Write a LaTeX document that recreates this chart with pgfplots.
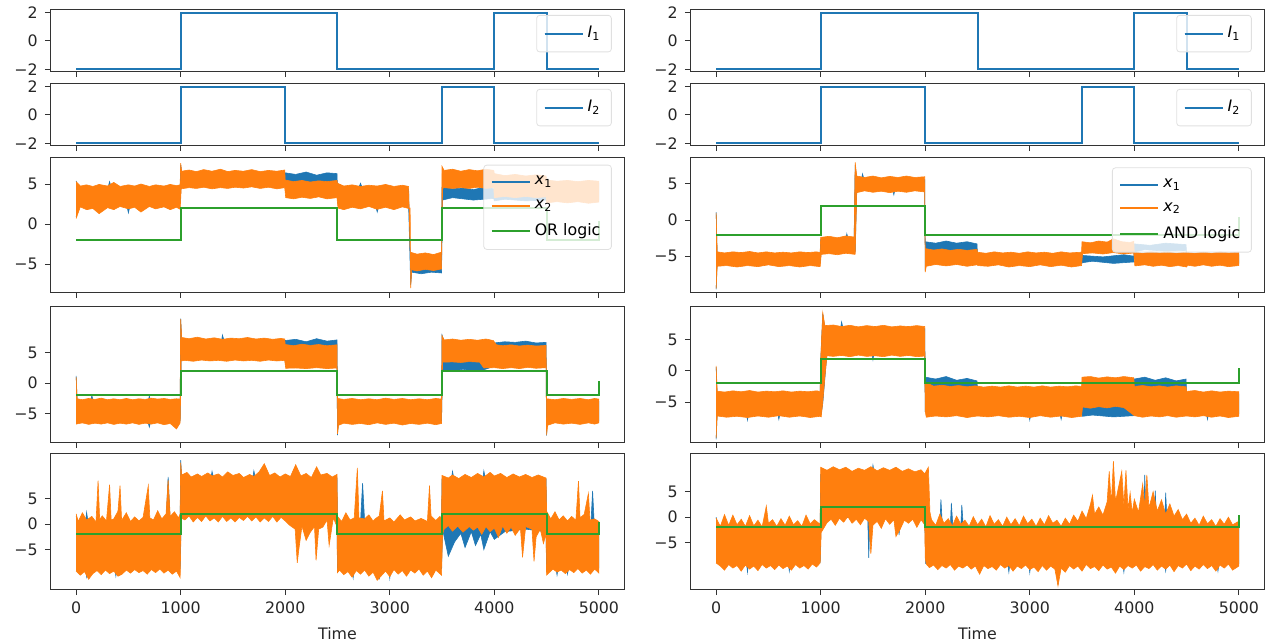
\documentclass[border=0pt]{standalone}
\usepackage{fontspec}
\setmainfont{DejaVu Sans}
\usepackage{pgfplots}
\pgfplotsset{compat=1.18}
\definecolor{c1}{HTML}{1F77B4}
\definecolor{c2}{HTML}{FF7F0E}
\definecolor{c3}{HTML}{2CA02C}
\newcommand\fs{\fontsize{7.9}{9.5}\selectfont}

\pgfplotsset{
  base/.style={scale only axis, width=287.5pt, xmin=-250, xmax=5250,
    xtick={0,1000,2000,3000,4000,5000}, xticklabels={},
    tick align=outside, xtick pos=bottom, ytick pos=left,
    major tick length=2.6pt,
    axis line style={black!80, line width=0.5pt},
    every tick/.style={black!80, line width=0.5pt},
    tick label style={font=\fs, text=black!85},
    legend style={font=\fs, draw=black!12, fill=white, fill opacity=0.8,
      text opacity=1, rounded corners=1.5pt, anchor=north east,
      row sep=2pt, inner sep=3.5pt},
    legend cell align=left,
    legend image code/.code={\draw[##1, line width=1pt] (0pt,0pt) -- (15pt,0pt);
      \path (0pt,0pt) -- (19pt,0pt);},
  },
  short/.style={base, height=31pt, ymin=-2.2, ymax=2.2,
    ytick={-2,0,2}, yticklabels={−2,0,2}},
  tall/.style={base, ytick={-5,0,5}, yticklabels={−5,0,5}},
  bottom/.style={xticklabels={0,1000,2000,3000,4000,5000},
    xlabel={Time}, xlabel style={font=\fs, text=black!85}},
  band/.style={fill=#1, draw=#1, line width=0.3pt, forget plot},
  sig/.style={#1, line width=1pt},
}

\begin{document}
\begin{tikzpicture}
\useasboundingbox (0,0) rectangle (633pt,321pt);

% ---------------- left column ----------------
\begin{axis}[short, at={(25pt,316pt)}, anchor=north west,
  legend style={at={(rel axis cs:0.977,0.92)}}]
\addplot[sig=c1] coordinates {(0,-2)(1000,-2)(1000,2)(2500,2)(2500,-2)(4000,-2)(4000,2)(4500,2)(4500,-2)(5000,-2)};
\addlegendentry{\textit{I}\textsubscript{1}}
\end{axis}

\begin{axis}[short, at={(25pt,279pt)}, anchor=north west,
  legend style={at={(rel axis cs:0.977,0.92)}}]
\addplot[sig=c1] coordinates {(0,-2)(1000,-2)(1000,2)(2000,2)(2000,-2)(3500,-2)(3500,2)(4000,2)(4000,-2)(5000,-2)};
\addlegendentry{\textit{I}\textsubscript{2}}
\end{axis}

\begin{axis}[tall, at={(25pt,242pt)}, anchor=north west, height=67.5pt,
  ymin=-8.6, ymax=8.25, legend style={at={(rel axis cs:0.977,0.95)}}]
\addplot[band=c1] coordinates {(0,5.4)(20,4.3)(300,4.3)(320,5.3)(340,4.3)(995,4.3)(1000,7.4)(1010,6.3)(1995,6.3)(2000,6.4)(2100,6.2)(2200,6.5)(2300,6.1)(2400,6.4)(2495,6.3)(2500,4.4)(2700,4.4)(2720,5.1)(2740,4.4)(3180,4.4)(3195,-4.0)(3495,-4.0)(3500,4.6)(3600,4.4)(3700,4.5)(3800,4.3)(3900,4.6)(3995,4.4)(4000,4.2)(4200,4.4)(4400,4.1)(4495,4.3)(4500,5.0)(4700,5.1)(4900,5.0)(5000,5.1)
 (5000,3.0)(4800,3.0)(4600,3.0)(4500,2.9)(4495,3.0)(4300,2.9)(4100,3.1)(4000,2.9)(3995,3.2)(3800,3.0)(3600,3.3)(3505,3.0)(3495,-6.1)(3400,-6.0)(3300,-6.2)(3210,-6.0)(3200,-7.6)(3180,2.5)(2900,2.5)(2880,1.5)(2860,2.5)(2505,2.5)(2495,5.2)(2300,5.1)(2100,5.3)(2005,5.1)(1995,4.9)(1005,4.9)(995,2.6)(520,2.6)(500,1.4)(480,2.6)(20,2.6)(0,0.9)};
\addplot[band=c2] coordinates {(0,5.3)(40,4.75)(100,4.9)(160,4.7)(220,4.95)(300,4.75)(360,5.2)(420,4.7)(500,4.9)(560,4.75)(620,5.0)(700,4.7)(760,4.9)(840,4.75)(900,4.95)(960,4.8)(995,4.9)(1000,7.6)(1010,6.6)(1080,6.75)(1150,6.55)(1220,6.8)(1300,6.6)(1380,6.85)(1450,6.55)(1520,6.7)(1600,6.6)(1680,6.8)(1760,6.55)(1840,6.7)(1920,6.6)(1995,6.75)(2000,5.5)(2080,5.3)(2160,5.45)(2240,5.25)(2320,5.4)(2400,5.3)(2495,5.45)(2500,5.1)(2560,4.75)(2640,4.9)(2720,4.7)(2800,4.85)(2880,4.75)(2960,4.95)(3040,4.7)(3120,4.85)(3180,4.7)(3195,-3.5)(3260,-3.75)(3340,-3.6)(3420,-3.8)(3495,-3.5)(3500,7.2)(3520,6.7)(3600,6.85)(3680,6.6)(3760,6.8)(3840,6.65)(3920,6.85)(3995,6.7)(4000,6.3)(4100,6.05)(4200,6.2)(4300,6.0)(4400,6.15)(4495,6.0)(4500,5.5)(4600,5.35)(4700,5.45)(4800,5.3)(4900,5.45)(5000,5.35)
 (5000,2.75)(4900,2.6)(4800,2.8)(4700,2.65)(4600,2.8)(4500,2.65)(4495,3.4)(4400,3.3)(4300,3.45)(4200,3.3)(4100,3.45)(4000,3.3)(3995,4.55)(3920,4.45)(3840,4.6)(3760,4.45)(3680,4.55)(3600,4.45)(3520,4.55)(3505,4.45)(3495,-5.6)(3420,-5.8)(3340,-5.65)(3260,-5.85)(3210,-5.7)(3200,-8.0)(3195,2.0)(3180,1.95)(3120,2.15)(3040,1.8)(2960,2.1)(2880,1.85)(2800,2.2)(2720,1.9)(2640,2.1)(2560,1.8)(2505,2.0)(2495,3.3)(2400,3.15)(2320,3.4)(2240,3.2)(2160,3.35)(2080,3.15)(2005,3.3)(1995,4.55)(1920,4.4)(1840,4.6)(1760,4.45)(1680,4.65)(1600,4.5)(1520,4.6)(1450,4.45)(1380,4.55)(1300,4.4)(1220,4.6)(1150,4.45)(1080,4.55)(1005,4.4)(995,1.85)(960,2.1)(900,1.8)(840,2.15)(760,1.9)(700,2.2)(620,1.5)(560,2.1)(500,1.9)(420,2.2)(360,1.8)(300,2.05)(220,1.3)(160,1.95)(100,1.8)(40,2.15)(0,0.7)};
\addlegendimage{sig=c1}\addlegendentry{\textit{x}\textsubscript{1}}
\addlegendimage{sig=c2}\addlegendentry{\textit{x}\textsubscript{2}}
\addplot[sig=c3] coordinates {(0,-2)(1000,-2)(1000,2)(2500,2)(2500,-2)(3500,-2)(3500,2)(4500,2)(4500,-2)(5000,-2)(5000,0.4)};
\addlegendentry{OR logic}
\end{axis}

\begin{axis}[tall, at={(25pt,167.5pt)}, anchor=north west, height=68pt,
  ymin=-9.8, ymax=12.5]
\addplot[band=c1] coordinates {(0,1.2)(10,-3.0)(140,-3.0)(150,-2.0)(165,-3.0)(690,-3.0)(700,-2.1)(715,-3.0)(995,-3.0)(1000,10.6)(1010,6.9)(1390,6.9)(1400,7.9)(1415,6.9)(1995,6.9)(2000,7.0)(2100,7.2)(2200,6.8)(2300,7.3)(2400,6.9)(2495,7.1)(2500,-3.0)(3495,-3.0)(3500,7.9)(3520,6.8)(3995,6.8)(4000,6.6)(4100,6.8)(4200,6.7)(4300,6.9)(4400,6.6)(4495,6.7)(4500,-3.0)(5000,-3.0)
 (5000,-6.2)(4600,-6.2)(4505,-6.5)(4500,-8.6)(4495,3.0)(4300,2.8)(4100,2.9)(4000,2.8)(3900,2.2)(3800,2.0)(3700,2.3)(3600,2.0)(3505,2.2)(3495,-6.2)(2510,-6.2)(2500,-8.5)(2495,3.0)(2200,2.8)(2005,3.0)(1995,3.95)(1005,3.95)(995,-6.2)(715,-6.2)(700,-7.2)(685,-6.2)(0,-6.2)};
\addplot[band=c2] coordinates {(0,1.0)(10,-2.55)(60,-2.7)(120,-2.5)(180,-2.65)(240,-2.45)(300,-2.7)(360,-2.55)(420,-2.7)(480,-2.5)(540,-2.7)(600,-2.55)(660,-2.65)(720,-2.45)(780,-2.6)(840,-2.5)(900,-2.65)(960,-2.55)(995,-2.6)(1000,10.5)(1010,7.5)(1080,7.3)(1160,7.55)(1240,7.25)(1320,7.45)(1400,7.2)(1480,7.4)(1560,7.3)(1640,7.5)(1720,7.25)(1800,7.4)(1880,7.2)(1960,7.35)(1995,7.25)(2000,6.35)(2080,6.15)(2160,6.4)(2240,6.2)(2320,6.35)(2400,6.15)(2495,6.3)(2500,-2.5)(2560,-2.65)(2640,-2.5)(2720,-2.7)(2800,-2.55)(2880,-2.7)(2960,-2.45)(3040,-2.65)(3120,-2.5)(3200,-2.7)(3280,-2.55)(3360,-2.7)(3440,-2.5)(3495,-2.6)(3500,7.8)(3520,7.1)(3600,7.25)(3680,7.05)(3760,7.2)(3840,7.05)(3920,7.25)(3990,7.0)(4020,6.3)(4080,6.15)(4160,6.3)(4240,6.1)(4320,6.25)(4400,6.1)(4495,6.2)(4500,-2.55)(4580,-2.7)(4660,-2.5)(4740,-2.65)(4820,-2.5)(4900,-2.7)(4960,-2.5)(5000,-2.6)
 (5000,-6.5)(4960,-6.7)(4900,-6.5)(4820,-6.75)(4740,-6.55)(4660,-6.7)(4580,-6.5)(4510,-6.9)(4500,-8.5)(4495,2.55)(4400,2.45)(4320,2.6)(4240,2.4)(4160,2.55)(4080,2.4)(4000,2.55)(3900,2.5)(3860,3.45)(3760,3.55)(3680,3.4)(3600,3.5)(3505,3.45)(3495,-6.6)(3440,-6.8)(3360,-6.55)(3280,-6.75)(3200,-6.6)(3120,-6.85)(3040,-6.55)(2960,-6.75)(2880,-6.5)(2800,-6.8)(2720,-6.6)(2640,-6.75)(2560,-6.55)(2510,-6.9)(2500,-8.3)(2495,2.5)(2400,2.4)(2300,2.55)(2200,2.4)(2100,2.5)(2005,2.45)(1995,3.75)(1920,3.65)(1840,3.8)(1760,3.6)(1680,3.75)(1600,3.65)(1520,3.8)(1440,3.6)(1360,3.75)(1280,3.65)(1200,3.8)(1120,3.6)(1040,3.75)(1005,3.65)(995,-6.5)(960,-7.5)(900,-6.6)(840,-6.8)(780,-6.5)(720,-6.7)(660,-6.55)(600,-6.75)(540,-6.5)(480,-6.7)(420,-6.55)(360,-6.75)(300,-6.5)(240,-6.7)(180,-6.55)(120,-6.75)(60,-6.5)(0,-6.7)};
\addplot[sig=c3] coordinates {(0,-2)(1000,-2)(1000,2)(2500,2)(2500,-2)(3500,-2)(3500,2)(4500,2)(4500,-2)(5000,-2)(5000,0.4)};
\end{axis}

\begin{axis}[tall, bottom, at={(25pt,94pt)}, anchor=north west, height=68pt,
  ymin=-12.9, ymax=13.7]
\addplot[band=c1] coordinates {(0,1.5)(20,0.3)(90,0.3)(100,2.3)(115,0.3)(860,0.3)(880,9.2)(900,0.3)(995,0.3)(1000,12.5)(1010,9.0)(1290,9.0)(1300,10.3)(1315,9.0)(1690,9.0)(1700,10.4)(1715,9.0)(2290,9.0)(2300,10.2)(2315,9.0)(2495,9.0)(2500,0.3)(2720,0.3)(2740,8.0)(2760,0.3)(3495,0.3)(3500,8.8)(3590,8.8)(3600,10.3)(3615,8.8)(3890,8.8)(3900,10.4)(3915,8.8)(4495,8.8)(4500,0.4)(4925,0.4)(4940,6.5)(4955,0.4)(5000,0.4)
 (5000,-8.6)(4710,-8.6)(4700,-9.8)(4690,-8.6)(4610,-8.6)(4600,-10.0)(4590,-8.6)(4500,-8.6)(4495,-1.5)(4300,-1.0)(4100,-1.5)(4000,-3.0)(3960,-1.5)(3900,-5.0)(3870,-2.0)(3820,-4.2)(3780,-1.5)(3720,-4.6)(3680,-1.8)(3620,-3.5)(3560,-6.3)(3520,-2.5)(3505,-1.0)(3495,-8.7)(3010,-8.7)(3000,-10.6)(2990,-8.7)(2910,-8.7)(2900,-10.8)(2890,-8.7)(2660,-8.7)(2650,-10.5)(2640,-8.7)(2500,-8.7)(2495,1.3)(2005,1.3)(1995,1.7)(1005,1.7)(995,-8.7)(390,-8.7)(380,-10.2)(370,-8.7)(110,-8.7)(100,-10.3)(90,-8.7)(0,-8.7)};
\addplot[band=c2] coordinates {(0,2.0)(20,0.5)(60,2.2)(100,0.8)(150,1.5)(190,0.4)(210,8.5)(225,0.9)(250,1.6)(290,0.6)(320,7.7)(335,0.8)(360,1.0)(400,2.5)(420,7.5)(435,0.7)(480,2.2)(520,0.5)(560,1.4)(600,0.6)(640,1.3)(690,7.5)(705,1.2)(740,0.8)(780,2.6)(820,1.0)(860,2.0)(880,8.6)(900,1.5)(940,2.4)(980,1.2)(995,2.0)(1000,12.0)(1010,9.6)(1060,10.1)(1100,9.2)(1160,9.8)(1200,9.3)(1260,10.0)(1300,9.4)(1360,9.8)(1400,9.2)(1450,10.2)(1500,9.5)(1560,9.9)(1600,9.1)(1660,9.7)(1700,9.3)(1750,10.2)(1800,11.8)(1850,9.5)(1900,10.0)(1950,9.2)(2000,9.8)(2050,9.3)(2100,11.6)(2150,9.4)(2200,9.9)(2250,9.1)(2300,11.2)(2340,9.6)(2400,9.9)(2450,9.2)(2495,9.7)(2500,1.5)(2540,0.5)(2580,2.2)(2620,0.8)(2660,1.2)(2690,11.0)(2705,1.2)(2760,1.0)(2800,1.8)(2840,0.6)(2860,1.0)(2900,1.6)(2930,6.5)(2945,0.6)(3000,1.2)(3040,0.4)(3100,1.8)(3140,0.8)(3200,1.4)(3240,0.6)(3300,1.1)(3360,0.5)(3380,7.5)(3395,1.6)(3440,0.7)(3480,1.5)(3495,1.0)(3500,9.5)(3560,9.0)(3600,9.6)(3660,8.9)(3720,9.7)(3780,9.1)(3840,9.9)(3900,9.2)(3960,10.1)(4000,9.4)(4060,9.9)(4120,9.1)(4180,9.8)(4240,9.2)(4300,9.7)(4360,9.1)(4420,9.6)(4495,9.0)(4500,2.5)(4540,1.0)(4580,2.4)(4620,0.8)(4660,1.6)(4700,0.6)(4740,1.5)(4780,0.7)(4805,8.4)(4820,1.2)(4860,1.9)(4900,6.0)(4915,0.8)(4960,1.0)(5000,0.5)
 (5000,-9.6)(4960,-8.8)(4920,-9.8)(4880,-9.0)(4840,-9.6)(4800,-8.7)(4760,-9.5)(4720,-8.9)(4680,-9.7)(4640,-9.0)(4600,-9.4)(4560,-8.8)(4520,-9.6)(4500,-10.0)(4495,-2.0)(4470,-3.8)(4440,-1.0)(4400,-2.5)(4380,-7.3)(4360,-1.0)(4300,-0.5)(4270,-6.5)(4250,-0.8)(4200,-2.2)(4160,-0.6)(4120,-1.8)(4080,-0.4)(4040,-2.6)(4000,-0.8)(3960,-1.5)(3920,-0.5)(3880,-2.0)(3840,-0.6)(3800,-1.2)(3760,-0.5)(3700,-1.6)(3650,-0.4)(3600,-1.4)(3560,-0.3)(3520,-1.0)(3505,-2.0)(3495,-10.0)(3440,-9.0)(3400,-10.5)(3360,-9.2)(3320,-10.0)(3280,-8.8)(3240,-9.6)(3200,-9.0)(3160,-10.2)(3120,-9.1)(3080,-9.8)(3040,-8.9)(3000,-10.3)(2960,-9.2)(2920,-10.1)(2880,-11.0)(2840,-9.4)(2800,-10.2)(2760,-9.0)(2720,-9.8)(2680,-9.1)(2640,-10.4)(2600,-9.3)(2560,-9.9)(2520,-9.0)(2500,-9.5)(2495,-0.5)(2460,1.2)(2420,-4.2)(2400,0.8)(2360,-0.6)(2320,-1.0)(2295,-7.1)(2280,-0.5)(2240,-1.6)(2200,-3.2)(2160,-0.4)(2130,-5.0)(2115,-7.6)(2095,-1.0)(2040,-0.2)(2000,0.6)(1960,1.3)(1920,0.4)(1880,1.5)(1840,0.5)(1800,1.2)(1760,0.4)(1720,1.4)(1680,0.6)(1640,1.5)(1600,0.7)(1560,1.3)(1520,0.4)(1480,1.2)(1440,0.5)(1400,1.5)(1360,0.4)(1320,1.2)(1280,0.6)(1240,1.6)(1200,0.5)(1160,1.3)(1120,0.4)(1080,1.6)(1040,0.8)(1005,1.2)(995,-10.5)(960,-9.2)(920,-9.8)(880,-9.0)(840,-9.6)(800,-8.8)(760,-9.5)(720,-8.9)(680,-9.8)(640,-9.1)(600,-9.5)(560,-8.9)(520,-9.6)(480,-9.0)(440,-9.8)(400,-10.2)(360,-9.2)(320,-9.7)(280,-9.0)(240,-9.9)(200,-9.1)(160,-9.7)(120,-10.8)(80,-9.3)(40,-10.0)(0,-9.2)};
\addplot[sig=c3] coordinates {(0,-2)(1000,-2)(1000,2)(2500,2)(2500,-2)(3500,-2)(3500,2)(4500,2)(4500,-2)(5000,-2)(5000,0.4)};
\end{axis}

% ---------------- right column ----------------
\begin{axis}[short, at={(345pt,316pt)}, anchor=north west,
  legend style={at={(rel axis cs:0.977,0.92)}}]
\addplot[sig=c1] coordinates {(0,-2)(1000,-2)(1000,2)(2500,2)(2500,-2)(4000,-2)(4000,2)(4500,2)(4500,-2)(5000,-2)};
\addlegendentry{\textit{I}\textsubscript{1}}
\end{axis}

\begin{axis}[short, at={(345pt,279pt)}, anchor=north west,
  legend style={at={(rel axis cs:0.977,0.92)}}]
\addplot[sig=c1] coordinates {(0,-2)(1000,-2)(1000,2)(2000,2)(2000,-2)(3500,-2)(3500,2)(4000,2)(4000,-2)(5000,-2)};
\addlegendentry{\textit{I}\textsubscript{2}}
\end{axis}

\begin{axis}[tall, at={(345pt,242pt)}, anchor=north west, height=67.5pt,
  ymin=-10.1, ymax=8.6, legend style={at={(rel axis cs:0.977,0.93)}}]
\addplot[band=c1] coordinates {(0,1.1)(10,-4.8)(995,-4.8)(1000,-2.7)(1240,-2.7)(1250,-1.9)(1265,-2.7)(1320,-2.7)(1330,7.6)(1345,5.6)(1390,5.6)(1400,6.4)(1415,5.6)(1995,5.6)(2000,-3.0)(2100,-3.2)(2200,-2.9)(2300,-3.2)(2400,-3.0)(2495,-3.3)(2500,-4.8)(3495,-4.8)(3500,-4.9)(3700,-5.1)(3900,-4.8)(3995,-5.0)(4000,-3.3)(4150,-3.5)(4300,-3.2)(4495,-3.4)(4500,-4.8)(5000,-4.8)
 (5000,-6.0)(4500,-6.0)(4495,-4.2)(4300,-4.3)(4100,-4.1)(4000,-4.4)(3995,-5.8)(3800,-6.0)(3600,-5.7)(3505,-5.9)(3495,-6.0)(2505,-6.0)(2495,-4.3)(2300,-4.1)(2100,-4.4)(2005,-4.2)(2000,-7.0)(1995,4.2)(1710,4.2)(1700,3.5)(1690,4.2)(1345,4.2)(1330,-4.4)(1005,-4.4)(995,-6.0)(10,-6.0)(0,-9.6)};
\addplot[band=c2] coordinates {(0,1.0)(10,-4.4)(80,-4.55)(160,-4.4)(240,-4.5)(320,-4.35)(400,-4.55)(480,-4.4)(560,-4.55)(640,-4.45)(720,-4.55)(800,-4.4)(880,-4.5)(960,-4.4)(995,-4.5)(1000,-2.4)(1080,-2.25)(1160,-2.45)(1240,-2.2)(1320,-2.35)(1330,8.0)(1345,6.1)(1420,5.9)(1500,6.1)(1580,5.85)(1660,6.05)(1740,5.9)(1820,6.1)(1900,5.9)(1995,6.0)(2000,-3.95)(2080,-4.15)(2160,-4.0)(2240,-4.2)(2320,-4.05)(2400,-4.2)(2495,-4.05)(2500,-4.45)(2580,-4.6)(2660,-4.4)(2740,-4.55)(2820,-4.45)(2900,-4.6)(2980,-4.4)(3060,-4.55)(3140,-4.45)(3220,-4.6)(3300,-4.4)(3380,-4.55)(3495,-4.45)(3500,-3.0)(3580,-3.15)(3660,-2.9)(3740,-3.05)(3800,-2.6)(3880,-3.0)(3960,-3.1)(3995,-2.95)(4000,-4.45)(4080,-4.6)(4160,-4.4)(4240,-4.55)(4320,-4.45)(4400,-4.6)(4495,-4.45)(4500,-4.5)(4580,-4.6)(4660,-4.45)(4740,-4.6)(4820,-4.4)(4900,-4.55)(5000,-4.45)
 (5000,-6.3)(4900,-6.45)(4820,-6.25)(4740,-6.4)(4660,-6.2)(4580,-6.4)(4510,-6.25)(4500,-6.5)(4420,-6.3)(4340,-6.45)(4260,-6.25)(4180,-6.4)(4100,-6.2)(4005,-6.35)(3995,-4.55)(3900,-4.7)(3800,-4.5)(3700,-4.7)(3600,-4.55)(3505,-4.65)(3495,-6.3)(3400,-6.5)(3300,-6.25)(3200,-6.45)(3100,-6.2)(3000,-6.45)(2900,-6.3)(2800,-6.5)(2700,-6.2)(2600,-6.4)(2505,-6.3)(2495,-6.2)(2400,-6.4)(2300,-6.15)(2200,-6.35)(2100,-6.15)(2010,-6.4)(2000,-7.2)(1995,3.9)(1900,4.05)(1820,3.85)(1740,4.0)(1660,3.8)(1580,4.0)(1500,3.85)(1420,4.05)(1345,3.8)(1330,-4.75)(1240,-4.6)(1160,-4.8)(1080,-4.65)(1005,-4.75)(995,-6.45)(900,-6.3)(800,-6.5)(700,-6.3)(600,-6.45)(500,-6.2)(400,-6.45)(300,-6.3)(200,-6.5)(100,-6.3)(10,-6.4)(0,-9.5)};
\addlegendimage{sig=c1}\addlegendentry{\textit{x}\textsubscript{1}}
\addlegendimage{sig=c2}\addlegendentry{\textit{x}\textsubscript{2}}
\addplot[sig=c3] coordinates {(0,-2)(1000,-2)(1000,2)(2000,2)(2000,-2)(5000,-2)(5000,0.4)};
\addlegendentry{AND logic}
\end{axis}

\begin{axis}[tall, at={(345pt,167.5pt)}, anchor=north west, height=68pt,
  ymin=-11.6, ymax=10.3]
\addplot[band=c1] coordinates {(0,0.6)(10,-3.7)(995,-3.7)(1000,1.5)(1020,9.2)(1040,6.8)(1190,6.8)(1200,7.9)(1215,6.8)(1995,6.8)(2000,-1.0)(2100,-1.3)(2200,-0.9)(2300,-1.5)(2400,-1.2)(2495,-1.6)(2500,-3.0)(3495,-3.0)(3500,-2.5)(3995,-2.8)(4000,-1.3)(4100,-1.0)(4200,-1.5)(4300,-1.1)(4400,-1.6)(4495,-1.3)(4500,-3.7)(5000,-3.7)
 (5000,-6.9)(4710,-6.9)(4700,-7.8)(4690,-6.9)(4500,-6.9)(4495,-5.6)(4000,-5.5)(3995,-7.2)(3800,-7.4)(3600,-7.1)(3505,-7.3)(3495,-6.9)(3310,-6.9)(3300,-7.8)(3290,-6.9)(3010,-6.9)(3000,-7.9)(2990,-6.9)(2500,-6.9)(2495,-5.5)(2005,-5.6)(2000,-6.6)(1995,2.8)(1510,2.8)(1500,1.8)(1490,2.8)(1060,2.8)(1040,-1.2)(1020,-5.2)(1005,-6.9)(995,-6.9)(610,-6.9)(600,-7.8)(590,-6.9)(310,-6.9)(300,-7.9)(290,-6.9)(10,-6.9)(0,-11.0)};
\addplot[band=c2] coordinates {(0,0.8)(10,-3.25)(80,-3.4)(160,-3.2)(240,-3.35)(320,-3.15)(400,-3.4)(480,-3.25)(560,-3.35)(640,-3.2)(720,-3.4)(800,-3.25)(880,-3.35)(960,-3.2)(995,-3.3)(1000,1.8)(1020,9.4)(1040,7.3)(1120,7.4)(1200,7.15)(1280,7.35)(1360,7.1)(1440,7.3)(1520,7.15)(1600,7.35)(1680,7.1)(1760,7.25)(1840,7.15)(1920,7.3)(1995,7.15)(2000,-1.8)(2080,-2.45)(2160,-2.3)(2240,-2.5)(2320,-2.35)(2400,-2.55)(2480,-2.4)(2560,-2.6)(2640,-2.45)(2720,-2.6)(2800,-2.4)(2880,-2.6)(2960,-2.45)(3040,-2.6)(3120,-2.4)(3200,-2.6)(3280,-2.45)(3360,-2.55)(3440,-2.4)(3495,-2.5)(3500,-1.0)(3580,-0.9)(3660,-1.15)(3740,-0.95)(3820,-1.1)(3900,-0.9)(3995,-1.1)(4000,-2.5)(4080,-2.35)(4160,-2.55)(4240,-2.4)(4320,-2.6)(4400,-2.4)(4495,-2.55)(4500,-3.3)(4580,-3.15)(4660,-3.4)(4740,-3.2)(4820,-3.4)(4900,-3.25)(5000,-3.35)
 (5000,-7.3)(4900,-7.5)(4820,-7.25)(4740,-7.45)(4660,-7.2)(4580,-7.4)(4500,-7.25)(4400,-7.45)(4320,-7.2)(4240,-7.4)(4160,-7.25)(4080,-7.45)(4000,-7.2)(3900,-5.9)(3820,-5.7)(3740,-5.95)(3660,-5.75)(3580,-6.0)(3505,-5.8)(3495,-7.3)(3400,-7.5)(3300,-7.25)(3200,-7.45)(3100,-7.2)(3000,-7.5)(2900,-7.3)(2800,-7.45)(2700,-7.2)(2600,-7.4)(2500,-7.25)(2400,-7.5)(2300,-7.2)(2200,-7.4)(2100,-7.25)(2010,-7.45)(2000,-6.5)(1995,2.4)(1920,2.3)(1840,2.5)(1760,2.35)(1680,2.55)(1600,2.3)(1520,2.45)(1440,2.35)(1360,2.55)(1280,2.3)(1200,2.5)(1120,2.35)(1060,2.45)(1040,-1.0)(1020,-5.0)(1005,-7.4)(995,-7.3)(900,-7.5)(800,-7.25)(700,-7.45)(600,-7.2)(500,-7.45)(400,-7.25)(300,-7.5)(200,-7.3)(100,-7.45)(10,-7.25)(0,-10.8)};
\addplot[sig=c3] coordinates {(0,-2)(1000,-2)(1000,2)(2000,2)(2000,-2)(5000,-2)(5000,0.4)};
\end{axis}

\begin{axis}[tall, bottom, at={(345pt,94pt)}, anchor=north west, height=68pt,
  ymin=-14.3, ymax=12.4]
\addplot[band=c1] coordinates {(0,0.0)(10,-2.0)(995,-2.0)(1000,8.4)(1490,8.4)(1500,10.2)(1515,8.4)(1995,8.0)(2010,-2.0)(2140,-2.0)(2150,3.5)(2165,-2.0)(2240,-2.0)(2250,2.8)(2265,-2.0)(2340,-2.0)(2350,2.4)(2365,-2.0)(4090,-2.0)(4100,8.3)(4115,-2.0)(4190,-2.0)(4200,5.2)(4215,-2.0)(4290,-2.0)(4300,4.8)(4315,-2.0)(5000,-2.0)
 (5000,-9.1)(4810,-9.1)(4800,-10.6)(4790,-9.1)(4310,-9.1)(4300,-10.6)(4290,-9.1)(3910,-9.1)(3900,-10.8)(3890,-9.1)(3280,-9.1)(3270,-13.2)(3260,-9.1)(3010,-9.1)(3000,-10.9)(2990,-9.1)(2810,-9.1)(2800,-10.8)(2790,-9.1)(2005,-9.1)(1995,-0.1)(1760,-0.1)(1750,-3.5)(1740,-0.1)(1470,-0.1)(1460,-8.0)(1450,-0.1)(1005,-0.1)(995,-8.9)(710,-8.9)(700,-10.6)(690,-8.9)(310,-8.9)(300,-10.8)(290,-8.9)(0,-8.9)};
\addplot[band=c2] coordinates {(0,-0.2)(40,-1.8)(80,0.5)(120,-1.6)(160,0.4)(200,-1.5)(240,-0.4)(280,-1.8)(320,0.3)(360,-1.7)(400,-0.6)(440,-1.9)(480,2.2)(500,-1.2)(540,-0.5)(580,-1.8)(620,-0.3)(660,-1.6)(700,0.2)(740,-1.5)(780,-0.7)(820,-1.8)(860,0.4)(900,-1.3)(940,-0.5)(995,-1.4)(1000,9.8)(1060,9.2)(1120,9.9)(1180,9.3)(1240,9.8)(1300,9.0)(1360,9.6)(1420,9.2)(1480,9.9)(1540,9.1)(1600,9.7)(1660,9.2)(1720,9.8)(1780,9.0)(1840,9.5)(1900,8.9)(1960,9.3)(1995,8.5)(2030,9.8)(2045,1.0)(2060,-0.5)(2100,-1.6)(2140,0.6)(2180,-1.2)(2220,-0.3)(2260,-1.7)(2300,0.2)(2340,-1.4)(2380,-0.6)(2420,-1.8)(2460,0.1)(2500,-1.5)(2540,-0.4)(2580,-1.9)(2620,0.3)(2660,-1.4)(2700,-0.5)(2740,-1.8)(2780,0.0)(2820,-1.5)(2860,-0.3)(2900,-1.7)(2940,0.2)(2980,-1.3)(3020,-0.4)(3060,-1.8)(3100,-0.2)(3140,-1.5)(3180,0.3)(3220,-1.2)(3260,-0.6)(3300,-1.8)(3340,-0.2)(3380,-1.4)(3420,0.4)(3460,-0.8)(3500,1.2)(3540,-0.3)(3580,2.5)(3600,4.3)(3620,0.6)(3660,2.0)(3700,0.4)(3740,3.0)(3760,9.0)(3780,2.5)(3800,11.0)(3820,3.0)(3850,6.0)(3880,9.0)(3900,2.2)(3920,9.2)(3940,1.5)(3960,4.8)(3980,0.8)(4000,3.5)(4040,1.0)(4080,6.5)(4100,2.0)(4120,8.3)(4140,1.8)(4180,5.0)(4220,1.2)(4260,3.4)(4300,0.6)(4340,2.6)(4380,0.2)(4420,1.5)(4460,-0.5)(4500,0.6)(4540,-1.2)(4580,-0.2)(4620,-1.6)(4660,0.2)(4700,-1.3)(4740,-0.5)(4780,-1.8)(4820,-0.3)(4860,-1.4)(4900,0.0)(4940,-1.5)(5000,-0.8)
 (5000,-9.6)(4940,-10.4)(4900,-9.2)(4860,-10.0)(4820,-9.4)(4780,-10.6)(4740,-9.5)(4700,-10.1)(4660,-9.3)(4620,-10.2)(4580,-9.6)(4540,-10.5)(4500,-9.2)(4460,-10.0)(4420,-9.5)(4380,-10.7)(4340,-9.4)(4300,-10.2)(4260,-9.6)(4220,-10.4)(4180,-9.3)(4140,-10.1)(4100,-9.7)(4060,-10.6)(4020,-9.4)(3980,-10.0)(3940,-9.5)(3900,-10.3)(3860,-9.6)(3820,-11.0)(3780,-9.8)(3740,-10.2)(3700,-9.4)(3660,-10.5)(3620,-9.7)(3580,-10.1)(3540,-9.3)(3500,-10.6)(3460,-9.6)(3420,-10.2)(3380,-9.5)(3340,-10.8)(3300,-10.0)(3270,-13.5)(3240,-10.2)(3200,-9.6)(3160,-10.4)(3120,-9.5)(3080,-10.7)(3040,-9.8)(3000,-10.3)(2960,-9.4)(2920,-10.1)(2880,-9.6)(2840,-10.6)(2800,-9.5)(2760,-10.0)(2720,-9.3)(2680,-10.4)(2640,-9.7)(2600,-10.1)(2560,-9.5)(2520,-11.2)(2480,-9.6)(2440,-10.2)(2400,-9.4)(2360,-10.0)(2320,-9.6)(2280,-10.4)(2240,-9.3)(2200,-10.0)(2160,-9.5)(2120,-10.3)(2080,-9.4)(2040,-9.9)(2010,-9.2)(2000,-8.0)(1995,-1.5)(1960,-0.5)(1920,-2.0)(1880,-0.4)(1840,-1.2)(1800,-0.6)(1760,-2.4)(1720,-3.8)(1700,-0.5)(1660,-1.4)(1620,-0.3)(1580,-2.2)(1540,-0.8)(1500,-1.6)(1480,-7.2)(1460,-0.9)(1420,-0.2)(1380,-1.5)(1340,-0.4)(1300,-1.2)(1260,0.1)(1220,-1.0)(1180,-0.2)(1140,-1.6)(1100,-0.4)(1060,-1.1)(1020,-2.5)(1005,-3.0)(995,-9.0)(960,-9.8)(920,-9.2)(880,-10.2)(840,-9.5)(800,-10.0)(760,-9.3)(720,-10.4)(680,-9.6)(640,-10.1)(600,-9.4)(560,-10.3)(520,-9.5)(480,-10.0)(440,-9.3)(400,-10.5)(360,-9.6)(320,-10.2)(280,-9.4)(240,-10.6)(200,-9.5)(160,-10.0)(120,-9.3)(80,-10.4)(40,-9.6)(0,-9.0)};
\addplot[sig=c3] coordinates {(0,-2)(1000,-2)(1000,2)(2000,2)(2000,-2)(5000,-2)(5000,0.4)};
\end{axis}
\end{tikzpicture}
\end{document}
